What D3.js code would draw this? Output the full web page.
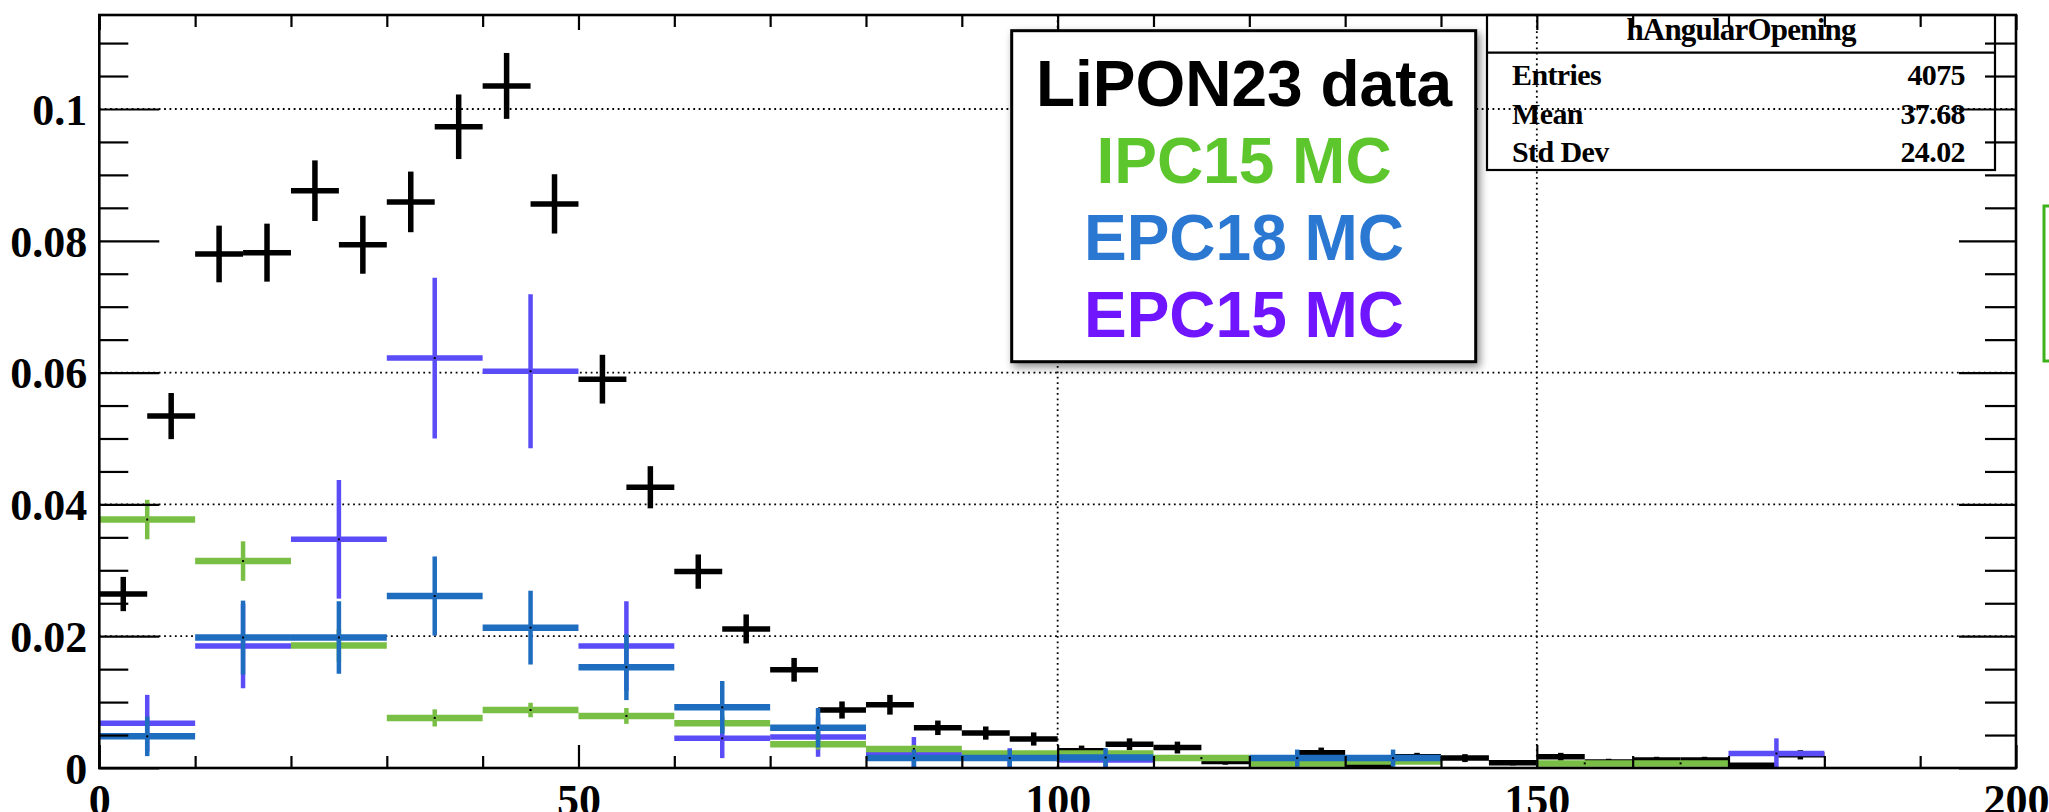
<!DOCTYPE html>
<html>
<head>
<meta charset="utf-8">
<script src="https://cdn.jsdelivr.net/npm/d3@7"></script>
<style>
body { margin: 0; background: #fff; }
svg { display: block; }
</style>
</head>
<body>
<svg id="chart"></svg>
<script>
// LiPON23 data, 5 degree bins
var dataCenters = [2.5, 7.5, 12.5, 17.5, 22.5, 27.5, 32.5, 37.5, 42.5, 47.5,
    52.5, 57.5, 62.5, 67.5, 72.5, 77.5, 82.5, 87.5, 92.5, 97.5,
    102.5, 107.5, 112.5, 117.5, 122.5, 127.5, 132.5, 137.5, 142.5, 147.5,
    152.5, 157.5, 162.5, 167.5, 172.5, 177.5];
var dataValues = [0.0264, 0.0534, 0.0780, 0.0782, 0.0876, 0.0794, 0.0859, 0.0973, 0.1035, 0.0856,
    0.0590, 0.0426, 0.0298, 0.0211, 0.0149, 0.0088, 0.0096, 0.0061, 0.0053, 0.0044,
    0.0026, 0.0036, 0.0031, 0.0010, 0.0012, 0.0023, 0.0005, 0.0017, 0.0015, 0.0008,
    0.0017, 0.0009, 0.0012, 0.0012, 0.0004, 0.0020];
var dataErrors = [0.0026, 0.0035, 0.0043, 0.0044, 0.0046, 0.0044, 0.0046, 0.0049, 0.0050, 0.0045,
    0.0037, 0.0032, 0.0026, 0.0022, 0.0018, 0.0013, 0.0015, 0.0011, 0.0010, 0.0010,
    0.0008, 0.0009, 0.0009, 0.0005, 0.0005, 0.0008, 0.0004, 0.0006, 0.0006, 0.0004,
    0.0006, 0.0005, 0.0005, 0.0005, 0.0003, 0.0007];

// MC samples, 10 degree bins
var mcCenters = [5, 15, 25, 35, 45, 55, 65, 75, 85, 95, 105, 115, 125, 135, 145, 155, 165, 175];
var ipc15Values = [0.0377, 0.0314, 0.0186, 0.0076, 0.0088, 0.0079, 0.0068, 0.0036, 0.0029, 0.0022,
    0.0022, 0.0015, 0.0007, 0.0010, 0, 0.0007, 0.0007, 0];
var ipc15Errors = [0.0030, 0.0030, 0.0025, 0.0013, 0.0011, 0.0012, 0.0010, 0.0008, 0.0006, 0.0005,
    0.0005, 0.0004, 0.0003, 0.0003, 0, 0.0003, 0.0003, 0];
var epc18Values = [0.0048, 0.0198, 0.0198, 0.0261, 0.0213, 0.0153, 0.0092, 0.0061, 0.0015, 0.0015,
    0.0016, 0, 0.0015, 0.0015, 0, 0, 0, 0];
var epc18Errors = [0.0030, 0.0056, 0.0055, 0.0060, 0.0056, 0.0050, 0.0040, 0.0030, 0.0013, 0.0013,
    0.0014, 0, 0.0013, 0.0013, 0, 0, 0, 0];
var epc15Values = [0.0068, 0.0185, 0.0347, 0.0622, 0.0602, 0.0185, 0.0045, 0.0047, 0.0023, 0.0015,
    0.0012, 0, 0, 0, 0, 0, 0, 0.0022];
var epc15Errors = [0.0043, 0.0064, 0.0090, 0.0122, 0.0117, 0.0068, 0.0030, 0.0030, 0.0024, 0.0015,
    0.0012, 0, 0, 0, 0, 0, 0, 0.0023];

var xTicks = [0, 50, 100, 150, 200];
var xMinorTicks = [10, 20, 30, 40, 60, 70, 80, 90, 110, 120, 130, 140, 160, 170, 180, 190];
var yTicks = [0, 0.02, 0.04, 0.06, 0.08, 0.1];
var yMinorTicks = [0.005, 0.01, 0.015, 0.025, 0.03, 0.035, 0.045, 0.05, 0.055, 0.065, 0.07, 0.075,
    0.085, 0.09, 0.095, 0.105, 0.11];
// grid lines that show in the picture
var xGrid = [100, 150];
var yGrid = [0.02, 0.04, 0.06, 0.1];

var legendLabels = ["LiPON23 data", "IPC15 MC", "EPC18 MC", "EPC15 MC"];
var legendColors = ["#000000", "#5cc62c", "#2b78d3", "#7015ff"];

var statsTitle = "hAngularOpening";
var statsNames = ["Entries", "Mean", "Std Dev"];
var statsValues = ["4075", "37.68", "24.02"];

function drawChart() {
    var W = 2049, H = 812;
    var margin = {top: 15, right: 33, bottom: 44, left: 99.3};
    var width = W - margin.left - margin.right,
        height = H - margin.top - margin.bottom;

    var x = d3.scaleLinear().domain([0, 200]).range([0, width]);
    var y = d3.scaleLinear().domain([0, 0.11426]).range([height, 0]);

    var svg = d3.select("#chart").attr("width", W).attr("height", H);
    svg.append("rect").attr("width", W).attr("height", H).attr("fill", "#fff");

    var defs = svg.append("defs");
    var shadow = defs.append("filter").attr("id", "shadow")
        .attr("x", "-10%").attr("y", "-10%").attr("width", "130%").attr("height", "130%");
    shadow.append("feDropShadow").attr("dx", 3).attr("dy", 4)
        .attr("stdDeviation", 4).attr("flood-color", "#000").attr("flood-opacity", 0.45);

    var chart = svg.append("g").attr("transform", "translate(" + margin.left + "," + margin.top + ")");

    // dotted grid
    var grid = chart.append("g").attr("stroke", "#000").attr("stroke-width", 1.8)
        .attr("stroke-dasharray", "1.8,3.6");
    grid.selectAll(".gy").data(yGrid)
        .enter().append("line")
        .attr("x1", 0).attr("x2", width)
        .attr("y1", function(d) { return y(d); })
        .attr("y2", function(d) { return y(d); });
    grid.selectAll(".gx").data(xGrid)
        .enter().append("line")
        .attr("y1", 0).attr("y2", height)
        .attr("x1", function(d) { return x(d); })
        .attr("x2", function(d) { return x(d); });

    // error crosses
    function crosses(centers, values, errors, halfWidth, color, hStroke, vStroke, dots) {
        var rows = centers.map(function(c, i) {
            return {c: c, v: values[i], e: errors[i]};
        }).filter(function(d) { return d.v > 0; });
        var g = chart.append("g");
        g.selectAll(".h").data(rows).enter().append("line")
            .attr("x1", function(d) { return x(d.c - halfWidth); })
            .attr("x2", function(d) { return x(d.c + halfWidth); })
            .attr("y1", function(d) { return y(d.v); })
            .attr("y2", function(d) { return y(d.v); })
            .attr("stroke", color).attr("stroke-width", hStroke);
        g.selectAll(".v").data(rows).enter().append("line")
            .attr("x1", function(d) { return x(d.c); })
            .attr("x2", function(d) { return x(d.c); })
            .attr("y1", function(d) { return y(d.v + d.e); })
            .attr("y2", function(d) { return y(Math.max(0, d.v - d.e)); })
            .attr("stroke", color).attr("stroke-width", vStroke);
        if (dots) {
            g.selectAll(".dot").data(rows).enter().append("rect")
                .attr("x", function(d) { return x(d.c) - 1; })
                .attr("y", function(d) { return y(d.v) - 1; })
                .attr("width", 2).attr("height", 2)
                .attr("fill", "#000");
        }
    }

    crosses(dataCenters, dataValues, dataErrors, 2.5, "#000", 5.5, 5.5, false);
    crosses(mcCenters, epc15Values, epc15Errors, 5, "#5a4cf6", 5.5, 4.5, true);
    crosses(mcCenters, ipc15Values, ipc15Errors, 5, "#79bf45", 6.5, 4.5, true);
    crosses(mcCenters, epc18Values, epc18Errors, 5, "#1f6dbf", 6.5, 4.5, true);

    // axes, ticks pointing inward
    var axisFont = "'Liberation Serif', 'Times New Roman', serif";

    var yAxis = chart.append("g")
        .call(d3.axisLeft(y).tickValues(yTicks).tickSize(-60).tickSizeOuter(0).tickPadding(12)
            .tickFormat(function(d) { return d === 0 ? "0" : String(+d.toFixed(3)); }));
    chart.append("g")
        .call(d3.axisLeft(y).tickValues(yMinorTicks).tickSize(-29).tickSizeOuter(0).tickFormat(""));
    chart.append("g").attr("transform", "translate(" + width + ",0)")
        .call(d3.axisRight(y).tickValues(yTicks).tickSize(-57).tickSizeOuter(0).tickFormat(""));
    chart.append("g").attr("transform", "translate(" + width + ",0)")
        .call(d3.axisRight(y).tickValues(yMinorTicks).tickSize(-31).tickSizeOuter(0).tickFormat(""));

    var xAxis = chart.append("g").attr("transform", "translate(0," + height + ")")
        .call(d3.axisBottom(x).tickValues(xTicks).tickSize(-23).tickSizeOuter(0).tickPadding(16));
    chart.append("g").attr("transform", "translate(0," + height + ")")
        .call(d3.axisBottom(x).tickValues(xMinorTicks).tickSize(-12).tickSizeOuter(0).tickFormat(""));
    chart.append("g")
        .call(d3.axisTop(x).tickValues(xTicks).tickSize(-15).tickSizeOuter(0).tickFormat(""));
    chart.append("g")
        .call(d3.axisTop(x).tickValues(xMinorTicks).tickSize(-12).tickSizeOuter(0).tickFormat(""));

    chart.selectAll(".domain").remove();
    chart.selectAll(".tick line").attr("stroke", "#000").attr("stroke-width", 2.2);
    [yAxis, xAxis].forEach(function(a) {
        a.selectAll("text")
            .attr("font-family", axisFont)
            .attr("font-weight", "bold")
            .attr("font-size", 44)
            .attr("fill", "#000");
    });
    yAxis.selectAll("text").attr("dy", "0.35em");

    // frame
    chart.append("rect")
        .attr("width", width).attr("height", height)
        .attr("fill", "none").attr("stroke", "#000").attr("stroke-width", 2.6);

    // stats box (transparent, as drawn by ROOT)
    var sx = 1487 - margin.left, sw = 1995 - 1487;
    var stats = chart.append("g").attr("font-family", axisFont).attr("font-weight", "bold").attr("fill", "#000");
    stats.append("rect").attr("x", sx).attr("y", 0).attr("width", sw).attr("height", 170 - margin.top)
        .attr("fill", "none").attr("stroke", "#000").attr("stroke-width", 2.2);
    stats.append("line").attr("x1", sx).attr("x2", sx + sw)
        .attr("y1", 52.7 - margin.top).attr("y2", 52.7 - margin.top)
        .attr("stroke", "#000").attr("stroke-width", 2.2);
    stats.append("text").attr("x", sx + sw / 2).attr("y", 40 - margin.top)
        .attr("text-anchor", "middle").attr("font-size", 31).attr("letter-spacing", -0.8)
        .text(statsTitle);
    stats.selectAll(".sn").data(statsNames).enter().append("text")
        .attr("x", 1512 - margin.left)
        .attr("y", function(d, i) { return 85 + i * 38.5 - margin.top; })
        .attr("font-size", 30).attr("letter-spacing", -0.6)
        .text(function(d) { return d; });
    stats.selectAll(".sv").data(statsValues).enter().append("text")
        .attr("x", 1965 - margin.left)
        .attr("y", function(d, i) { return 85 + i * 38.5 - margin.top; })
        .attr("text-anchor", "end")
        .attr("font-size", 30).attr("letter-spacing", -0.6)
        .text(function(d) { return d; });

    // legend
    var legend = svg.append("g");
    legend.append("rect")
        .attr("x", 1011.7).attr("y", 30.7).attr("width", 464).attr("height", 331)
        .attr("fill", "#fff").attr("stroke", "#000").attr("stroke-width", 3)
        .attr("filter", "url(#shadow)");
    legend.selectAll("text").data(legendLabels).enter().append("text")
        .attr("x", 1244)
        .attr("y", function(d, i) { return 106 + i * 76.9; })
        .attr("text-anchor", "middle")
        .attr("font-family", "'Liberation Sans', Arial, Helvetica, sans-serif")
        .attr("font-weight", "bold")
        .attr("font-size", 64)
        .attr("fill", function(d, i) { return legendColors[i]; })
        .text(function(d) { return d; });

    // partly visible green box at the right edge
    svg.append("rect")
        .attr("x", 2044).attr("y", 206).attr("width", 40).attr("height", 155)
        .attr("fill", "none").attr("stroke", "#3db21c").attr("stroke-width", 3);
}

drawChart();
</script>
</body>
</html>
